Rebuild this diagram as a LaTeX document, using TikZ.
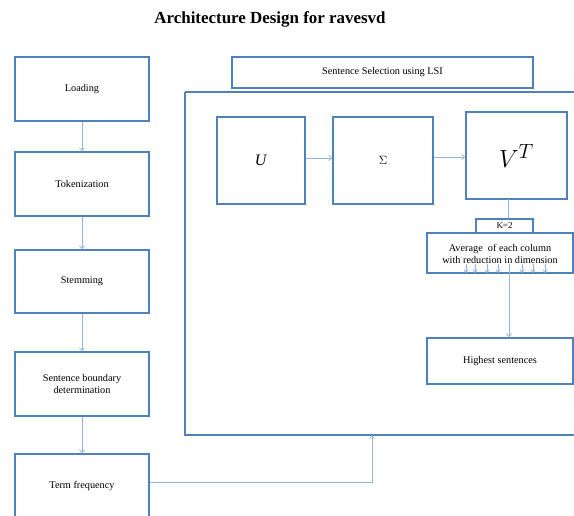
\documentclass[tikz,border=0pt]{standalone}
\usepackage{fontspec}
\setmainfont{Liberation Serif}
\usetikzlibrary{arrows.meta}
\definecolor{boxblue}{RGB}{79,129,189}
\definecolor{arrblue}{RGB}{150,180,218}
\begin{document}
\begin{tikzpicture}[x=1bp,y=-1bp,
  box/.style={draw=boxblue,line width=1.4pt,fill=white,inner sep=0pt},
  lbl/.style={font=\fontsize{10.3}{12}\selectfont,align=center},
  arr/.style={draw=arrblue,line width=0.8pt,-{Straight Barb[length=3pt,width=5pt]}},
  con/.style={draw=arrblue,line width=0.8pt}]
\useasboundingbox (0,0) rectangle (574,516);
% title
\node[font=\bfseries\fontsize{17}{19}\selectfont] (title) at (270,19) {Architecture Design for ravesvd};
% big box
\draw[box] (185,92) -- (580,92) (185,92) -- (185,435) -- (580,435);
\coordinate (bigbot) at (372,435);
% LSI header
\node[box,minimum width=301bp,minimum height=31bp,lbl] (lsi) at (382.5,72.5) {Sentence Selection using LSI};
% left column
\node[box,minimum width=134bp,minimum height=64bp,lbl] (load) at (82,89) {Loading};
\node[box,minimum width=134bp,minimum height=64bp,lbl] (tok) at (82,184) {Tokenization};
\node[box,minimum width=134bp,minimum height=63bp,lbl] (stem) at (82,281.5) {Stemming};
\node[box,minimum width=134bp,minimum height=64bp,lbl] (sbd) at (82,384) {Sentence boundary\\determination};
\node[box,minimum width=134bp,minimum height=76bp,lbl] (tf) at (82,492) {};
\node[lbl] (tft) at (82,486) {Term frequency};
\draw[arr] (load.south) -- (tok.north);
\draw[arr] (tok.south) -- (stem.north);
\draw[arr] (stem.south) -- (sbd.north);
\draw[arr] (sbd.south) -- (tf.north);
\draw[arr] (tf.east |- 0,482) -| (bigbot);
% SVD boxes
\node[box,minimum width=88bp,minimum height=87bp] (U) at (261,160.5) {\fontsize{16}{18}\selectfont\textit{U}};
\node[box,minimum width=100bp,minimum height=87bp] (S) at (383,160.5) {\fontsize{12}{14}\selectfont$\Sigma$};
\node[box,minimum width=101bp,minimum height=87bp] (V) at (516.5,155.5) {\fontsize{30}{32}\selectfont$V^{T}$};
\draw[arr] (U.east |- 0,158) -- (S.west |- 0,158);
\draw[arr] (S.east |- 0,157) -- (V.west |- 0,157);
% K=2 and average
\node[box,line width=1.1pt,minimum width=57bp,minimum height=14bp,font=\fontsize{9}{10}\selectfont] (k) at (504.5,226) {K=2};
\draw[con] (508,199) -- (k.north -| 508,0);
\node[box,minimum width=146bp,minimum height=40bp,lbl] (avg) at (500,253) {};
\node[lbl] (avgt) at (500,254) {Average \ of each column\\with reduction in dimension};
\foreach \xx in {466,475,487,498,522,533,545}{
  \draw[arr,-{Straight Barb[length=2.5pt,width=4pt]}] (\xx,264) -- (\xx,273);
}
\node[box,minimum width=146bp,minimum height=46bp,lbl] (hs) at (500,361) {Highest sentences};
\draw[arr] (avg.south -| 509,0) ++(0,-10) -- (hs.north -| 509,0);
\end{tikzpicture}
\end{document}
